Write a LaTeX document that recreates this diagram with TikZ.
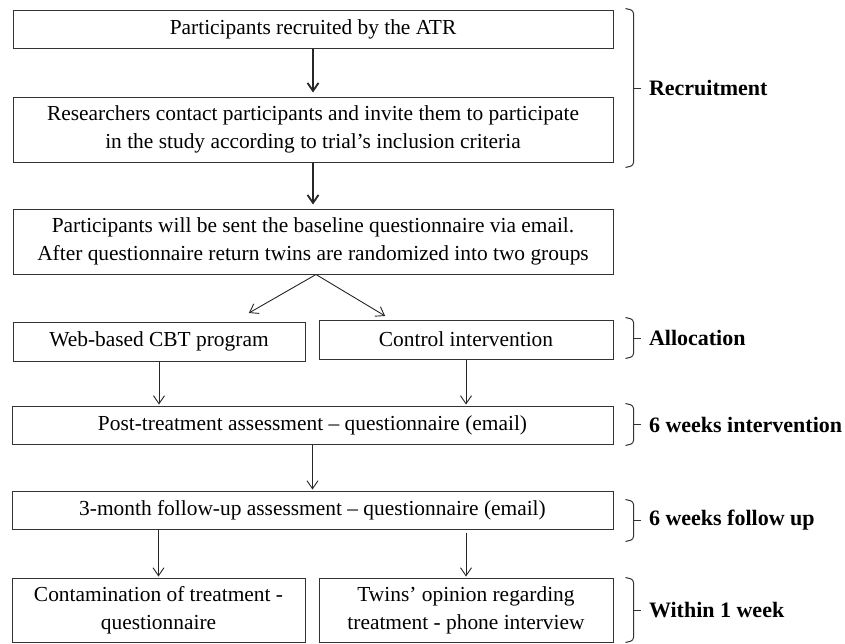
\documentclass[tikz,border=0pt]{standalone}
\usepackage{fontspec}
\setmainfont{Liberation Serif}
\usetikzlibrary{arrows.meta,calc}
\tikzset{%
   box/.style={rectangle, draw=black!80, line width=0.5pt, inner sep=0pt, align=center,
      font=\fontsize{10.7}{14}\selectfont},
   arr/.style={-{Straight Barb[length=4pt,width=5.5pt]}, line width=0.45pt, draw=black!85, shorten >=0.5pt},
   thickarr/.style={arr, line width=0.9pt, shorten >=2pt},
   brk/.style={draw=black!80, line width=0.5pt, rounded corners=1.5pt},
   phase/.style={anchor=west, inner sep=0pt, xshift=4pt, font=\fontsize{11}{13}\bfseries\selectfont},
}

\begin{document}
\begin{tikzpicture}[x=0.5pt, y=-0.5pt]
      \useasboundingbox (0,0) rectangle (845,643);
      % boxes
      \node[box, minimum width=300pt, minimum height=19pt] (atr) at (313,29) {Participants recruited by the ATR};
      \node[box, minimum width=300pt, minimum height=32.5pt] (contact) at (313,129.5)
         {Researchers contact participants and invite them to participate\\in the study according to trial’s inclusion criteria};
      \node[box, minimum width=300pt, minimum height=32.5pt] (baseline) at (313,241.5)
         {Participants will be sent the baseline questionnaire via email.\\After questionnaire return twins are randomized into two groups};
      \node[box, minimum width=146pt, minimum height=19.5pt] (web) at (159,341.5) {Web-based CBT program};
      \node[box, minimum width=147pt, minimum height=19.5pt] (ctrl) at (466,339.5) {Control intervention};
      \node[box, minimum width=300.5pt, minimum height=19pt] (post) at (312.5,425) {Post-treatment assessment – questionnaire (email)};
      \node[box, minimum width=300.5pt, minimum height=19pt] (follow) at (312.5,510) {3-month follow-up assessment – questionnaire (email)};
      \node[box, minimum width=146.5pt, minimum height=32pt] (contam) at (158.5,610) {Contamination of treatment -\\questionnaire};
      \node[box, minimum width=147pt, minimum height=32pt] (opinion) at (466,610) {Twins’ opinion regarding\\treatment - phone interview};
      % arrows
      \draw[thickarr] (atr) -- (contact);
      \draw[thickarr] (contact) -- (baseline);
      \draw[arr] ([xshift=1.5pt]baseline.south) -- ($(web.north)+(89,-8)$);
      \draw[arr] ([xshift=1.5pt]baseline.south) -- ($(ctrl.north)+(-80,-3)$);
      \draw[arr] (web) -- (web |- post.north);
      \draw[arr] (ctrl) -- (ctrl |- post.north);
      \draw[arr] (post) -- (follow);
      \draw[arr] (follow.south -| contam) -- (contam);
      \draw[arr] ([yshift=-1.5pt]follow.south -| opinion) -- (opinion);
      % phase brackets
      \coordinate (r1) at ($(atr.north east)+(12,-1)$);
      \coordinate (r2) at ($(contact.south east)+(12,5)$);
      \coordinate (a1) at ($(ctrl.north east)+(12,-2)$);
      \coordinate (a2) at ($(ctrl.south east)+(12,-1)$);
      \coordinate (i1) at ($(post.north east)+(12,-2)$);
      \coordinate (i2) at ($(post.south east)+(12,1)$);
      \coordinate (f1) at ($(follow.north east)+(12,9)$);
      \coordinate (f2) at ($(follow.south east)+(12,12)$);
      \coordinate (w1) at ($(opinion.north east)+(12,0)$);
      \coordinate (w2) at ($(opinion.south east)+(12,0)$);
      \foreach \t/\b/\nm/\txt in {r1/r2/recruit/Recruitment, a1/a2/alloc/Allocation,
            i1/i2/interv/6 weeks intervention, f1/f2/fup/6 weeks follow up, w1/w2/week/Within 1 week}
      {
         \draw[brk] (\t) -- ++(8,2) -- ($(\b)+(8,-2)$) -- (\b);
         \draw[brk] ($(\t)!.5!(\b)+(8,0)$) -- ++(7,0) node[phase] (\nm) {\txt};
      }
   \end{tikzpicture}
\end{document}
